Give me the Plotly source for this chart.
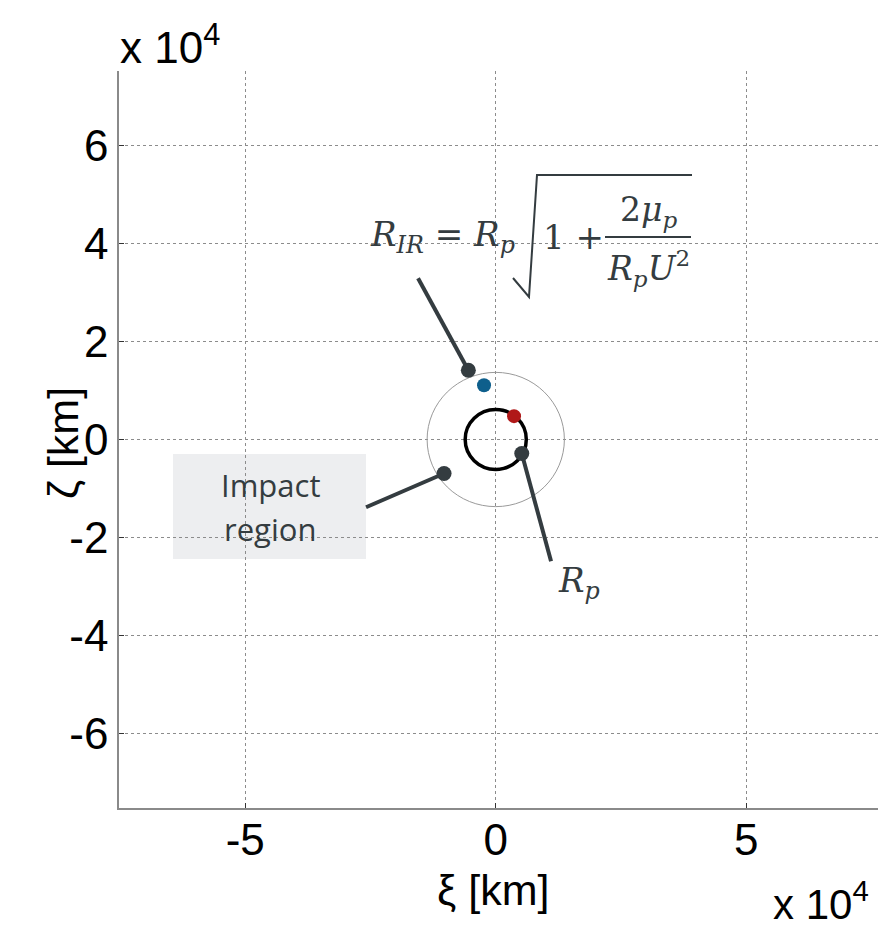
import plotly.graph_objects as go

# ---- data (km) ----
planet_radius = 6100          # R_p
impact_radius = 13700         # R_IR
pointer_x = [-5470, -10320, 5190]
pointer_y = [14140, -6940, -2860]
label_x = [-15510, -25890, 11040]
label_y = [32920, -13820, -24840]
blue_pt = ([-2340], [11080])
red_pt = ([3650], [4760])
x_tickvals = [-50000, 0, 50000]
x_ticktext = ["-5", "0", "5"]
y_tickvals = [-60000, -40000, -20000, 0, 20000, 40000, 60000]
y_ticktext = ["-6", "-4", "-2", "0", "2", "4", "6"]

W, H = 879, 931
L, R, T, B = 119, 1, 71, 123
PW, PH = W - L - R, H - T - B

DARK = "#343c40"
AX_FONT = "Liberation Sans, Arial, sans-serif"
MATH_FONT = "DejaVu Serif, serif"


def px(x):
    return (x - L) / PW


def py(y):
    return (H - B - y) / PH


fig = go.Figure()

# pointer markers and the two coloured points
fig.add_trace(go.Scatter(x=pointer_x, y=pointer_y, mode="markers",
                         marker=dict(size=15, color=DARK), showlegend=False, hoverinfo="skip"))
fig.add_trace(go.Scatter(x=blue_pt[0], y=blue_pt[1], mode="markers",
                         marker=dict(size=14, color="#0e5f8c"), showlegend=False))
fig.add_trace(go.Scatter(x=red_pt[0], y=red_pt[1], mode="markers",
                         marker=dict(size=14, color="#b01818"), showlegend=False))

shapes = []
# impact region boundary and planet
shapes.append(dict(type="circle", xref="x", yref="y", x0=-impact_radius, x1=impact_radius,
                   y0=-impact_radius, y1=impact_radius, line=dict(color="#9a9a9a", width=1),
                   layer="between"))
shapes.append(dict(type="circle", xref="x", yref="y", x0=-planet_radius, x1=planet_radius,
                   y0=-planet_radius, y1=planet_radius, line=dict(color="black", width=3.5),
                   layer="between"))
# leader lines
for x0, y0, x1, y1 in zip(pointer_x, pointer_y, label_x, label_y):
    shapes.append(dict(type="line", xref="x", yref="y", x0=x0, y0=y0, x1=x1, y1=y1,
                       line=dict(color=DARK, width=4), layer="between"))
# label box
shapes.append(dict(type="rect", xref="paper", yref="paper", x0=px(173), x1=px(366),
                   y0=py(559), y1=py(454), fillcolor="#edeef0", line=dict(width=0),
                   layer="between"))
# radical sign and fraction bar of the formula
shapes.append(dict(type="path", xref="paper", yref="paper",
                   path=f"M {px(513)},{py(278)} L {px(529)},{py(297)} L {px(537)},{py(175)} L {px(692)},{py(175)}",
                   line=dict(color=DARK, width=2), layer="above"))
shapes.append(dict(type="line", xref="paper", yref="paper", x0=px(605), x1=px(691),
                   y0=py(237), y1=py(237), line=dict(color=DARK, width=2), layer="above"))

ann = []


def text(x, y, s, size, font=MATH_FONT, xanchor="left", yanchor="middle", color=DARK):
    ann.append(dict(x=px(x), y=py(y), xref="paper", yref="paper", text=s, showarrow=False,
                    xanchor=xanchor, yanchor=yanchor, font=dict(family=font, size=size, color=color)))


# formula
text(368, 237, "<i>R</i><sub><i>IR</i></sub> = <i>R</i><sub><i>p</i></sub>", 34)
text(541, 237, "1 +", 34)
text(648, 211, "2<i>μ</i><sub><i>p</i></sub>", 33, xanchor="center")
text(648, 268, "<i>R</i><sub><i>p</i></sub><i>U</i><sup>2</sup>", 33, xanchor="center")
# R_p label
text(556, 582, "<i>R</i><sub><i>p</i></sub>", 34)
# box text
text(270, 485, "Impact", 31, font="Open Sans, sans-serif", xanchor="center")
text(270, 529, "region", 31, font="Open Sans, sans-serif", xanchor="center")
# axis titles and exponent labels
text(493, 890, "ξ [km]", 43, font=AX_FONT, xanchor="center", color="black")
ann.append(dict(x=px(37), y=py(443), xref="paper", yref="paper", text="ζ [km]", showarrow=False,
                textangle=-90, font=dict(family=AX_FONT, size=43, color="black")))
text(118, 44, "x 10<sup>4</sup>", 44, font=AX_FONT, color="black")
text(871, 930, "x 10<sup>4</sup>", 42, font=AX_FONT, xanchor="right", yanchor="bottom",
     color="black")

axis_common = dict(showline=True, linecolor="#8a8a8a", linewidth=1.5, mirror=False,
                   showgrid=True, gridcolor="#8c8c8c", gridwidth=1, griddash="dot",
                   zeroline=False, ticks="inside", ticklen=5, tickcolor="#333",
                   tickfont=dict(family=AX_FONT, size=44, color="black"))

fig.update_layout(
    width=W, height=H, margin=dict(l=L, r=R, t=T, b=B),
    paper_bgcolor="white", plot_bgcolor="white",
    xaxis=dict(range=[-75200, 76300], tickvals=x_tickvals, ticktext=x_ticktext,
               ticklabelstandoff=-8, **axis_common),
    yaxis=dict(range=[-75200, 75200], tickvals=y_tickvals, ticktext=y_ticktext, **axis_common),
    shapes=shapes, annotations=ann,
)

fig.write_html("out.html")
